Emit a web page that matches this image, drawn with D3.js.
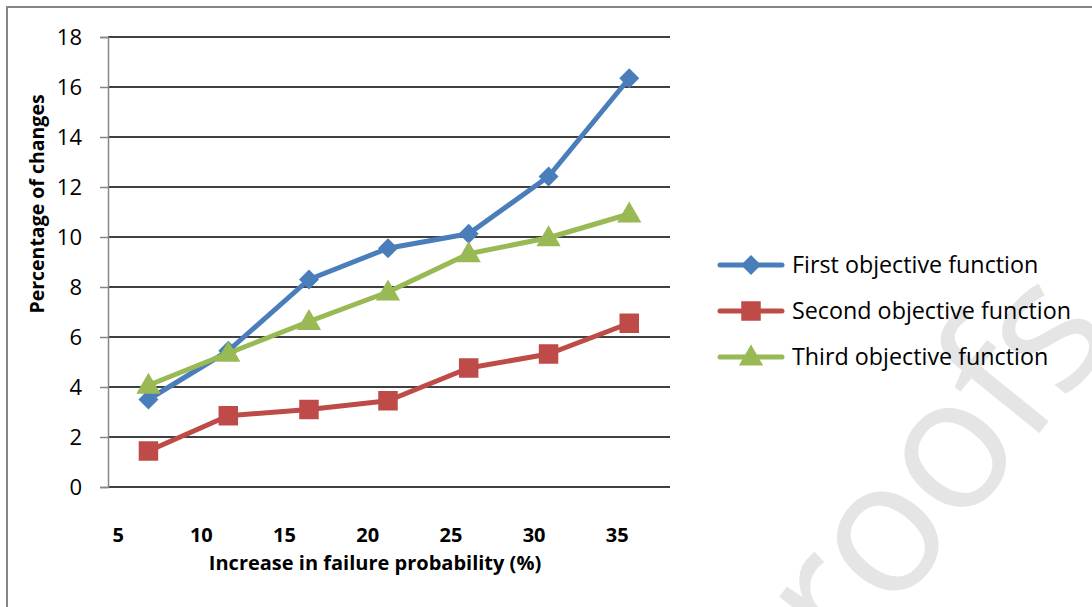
<!DOCTYPE html>
<html><head><meta charset="utf-8">
<script src="https://cdn.jsdelivr.net/npm/d3@7"></script>
<style>html,body{margin:0;padding:0;background:#fff;}svg{display:block;}</style>
</head><body>
<svg id="c" width="1092" height="607"></svg>
<script>
const xValues = [6.85, 11.65, 16.5, 21.25, 26.1, 30.9, 35.75];
const firstObjective  = [3.5, 5.45, 8.3, 9.55, 10.13, 12.42, 16.35];
const secondObjective = [1.44, 2.85, 3.1, 3.45, 4.76, 5.32, 6.55];
const thirdObjective  = [4.07, 5.35, 6.62, 7.8, 9.33, 9.97, 10.92];
const seriesNames = ["First objective function", "Second objective function", "Third objective function"];
const xTicks = [5, 10, 15, 20, 25, 30, 35];
const yTicks = [0, 2, 4, 6, 8, 10, 12, 14, 16, 18];
const xTitle = "Increase in failure probability (%)";
const yTitle = "Percentage of changes";
const watermark = "Journal Pre-proofs";

const colors = ["#4a7ebb", "#be4b48", "#98b954"];
const squareDiamond = {
  draw(ctx, size) {
    const r = Math.sqrt(size / 2);
    ctx.moveTo(0, -r); ctx.lineTo(r, 0); ctx.lineTo(0, r); ctx.lineTo(-r, 0); ctx.closePath();
  }
};
const symbols = [squareDiamond, d3.symbolSquare, d3.symbolTriangle];
const symSizes = [200, 380, 255];

const svg = d3.select("#c");
const font = "'Open Sans', sans-serif";

// watermark
svg.append("text")
  .attr("transform", "translate(1116,338) rotate(-51)")
  .attr("text-anchor", "end")
  .attr("font-family", font).attr("font-size", 185)
  .attr("letter-spacing", -4)
  .attr("fill", "#e5e5e5")
  .text(watermark);

// outer border
svg.append("path").attr("d", "M7,607 L7,7 L1092,7")
  .attr("fill", "none").attr("stroke", "#868686").attr("stroke-width", 2);

const x = d3.scaleLinear().domain([4.42, 38.2]).range([108, 670]);
const y = d3.scaleLinear().domain([0, 18]).range([487, 37]);

// gridlines
svg.append("g").selectAll("line").data(yTicks).join("line")
  .attr("x1", 108).attr("x2", 670)
  .attr("y1", d => y(d)).attr("y2", d => y(d))
  .attr("stroke", "#000").attr("stroke-width", 1.6);

// y axis
const yAxis = svg.append("g").attr("transform", "translate(108,0)")
  .call(d3.axisLeft(y).tickValues(yTicks).tickSize(8).tickPadding(18));
yAxis.select(".domain").attr("stroke", "#868686").attr("stroke-width", 1.5);
yAxis.selectAll(".tick line").attr("stroke", "#868686").attr("stroke-width", 1.5);
yAxis.selectAll("text").attr("font-family", font).attr("font-size", 22).attr("fill", "#000");

// x axis labels
const xAxis = svg.append("g").attr("transform", "translate(0,487)")
  .call(d3.axisBottom(x).tickValues(xTicks).tickSize(0).tickPadding(41));
xAxis.select(".domain").remove();
xAxis.selectAll("text").attr("font-family", font).attr("font-size", 20)
  .attr("font-weight", "bold").attr("fill", "#000");

// titles
svg.append("text").attr("x", 375).attr("y", 570).attr("text-anchor", "middle")
  .attr("font-family", font).attr("font-size", 20).attr("font-weight", "bold").text(xTitle);
svg.append("text").attr("transform", "translate(44,204) rotate(-90)").attr("text-anchor", "middle")
  .attr("font-family", font).attr("font-size", 19.5).attr("font-weight", "bold").text(yTitle);

// series
const series = [firstObjective, secondObjective, thirdObjective];
const line = d3.line().x((d, i) => x(xValues[i])).y(d => y(d));
series.forEach((vals, s) => {
  const g = svg.append("g");
  g.append("path").datum(vals).attr("d", line)
    .attr("fill", "none").attr("stroke", colors[s]).attr("stroke-width", 5)
    .attr("stroke-linejoin", "round");
  g.selectAll("path.m").data(vals).join("path").attr("class", "m")
    .attr("transform", (d, i) => `translate(${x(xValues[i])},${y(d) + (s === 2 ? 1.5 : 0)})`)
    .attr("d", d3.symbol().type(symbols[s]).size(symSizes[s]))
    .attr("fill", colors[s]);
});

// legend
const lg = svg.append("g");
seriesNames.forEach((name, s) => {
  const cy = 265 + s * 46;
  lg.append("line").attr("x1", 720).attr("x2", 782).attr("y1", cy).attr("y2", cy)
    .attr("stroke", colors[s]).attr("stroke-width", 5).attr("stroke-linecap", "round");
  lg.append("path").attr("transform", `translate(751,${cy + (s === 2 ? 1.5 : 0)})`)
    .attr("d", d3.symbol().type(symbols[s]).size(symSizes[s])).attr("fill", colors[s]);
  lg.append("text").attr("x", 792).attr("y", cy).attr("dy", "0.35em")
    .attr("font-family", font).attr("font-size", 23.3).attr("fill", "#000").text(name);
});
</script>
</body></html>
